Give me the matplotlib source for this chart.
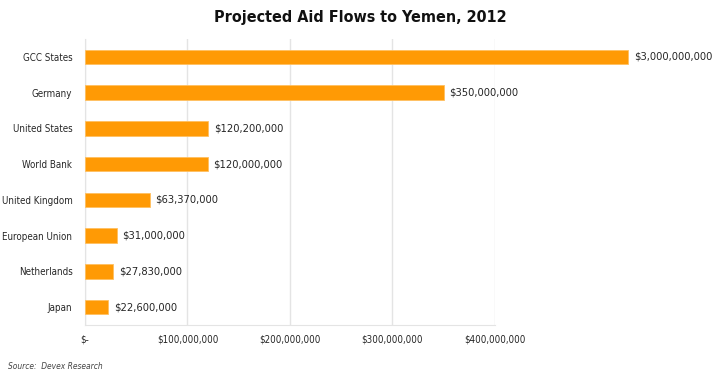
import matplotlib
matplotlib.use("Agg")
import matplotlib.pyplot as plt

# data
countries = ["GCC States", "Germany", "United States", "World Bank",
             "United Kingdom", "European Union", "Netherlands", "Japan"]
amounts = [3_000_000_000, 350_000_000, 120_200_000, 120_000_000,
           63_370_000, 31_000_000, 27_830_000, 22_600_000]
value_labels = ["$3,000,000,000", "$350,000,000", "$120,200,000", "$120,000,000",
                "$63,370,000", "$31,000,000", "$27,830,000", "$22,600,000"]
tick_values = [0, 100_000_000, 200_000_000, 300_000_000, 400_000_000]
tick_labels = ["$-", "$100,000,000", "$200,000,000", "$300,000,000", "$400,000,000"]

# the GCC bar runs off the scale in the original, so it is cut here
BAR_CAP = 530_000_000

plt.rcParams["font.family"] = ["DejaVu Sans"]
plt.rcParams["font.stretch"] = "condensed"
TEXT = "#262626"
ORANGE = "#ff9a05"

fig = plt.figure(figsize=(7.2, 3.77), dpi=100)
ax = fig.add_axes([0.118, 0.138, 0.5695, 0.7586])

shown = [min(a, BAR_CAP) for a in amounts]
ypos = list(range(len(countries)))
bars = ax.barh(ypos, shown, height=0.4, color=ORANGE, edgecolor="#ffc060",
               linewidth=0.6, zorder=3)
for b in bars:
    b.set_clip_on(False)

for y, v, lab in zip(ypos, shown, value_labels):
    ax.annotate(lab, (v, y), xytext=(4, 0), textcoords="offset points",
                va="center", ha="left", fontsize=8, color=TEXT,
                annotation_clip=False)

ax.set_xlim(0, 400_000_000)
ax.set_ylim(len(countries) - 0.5, -0.5)
ax.set_yticks(ypos)
ax.set_yticklabels(countries, fontsize=7, color=TEXT)
ax.set_xticks(tick_values)
ax.set_xticklabels(tick_labels, fontsize=7, color=TEXT)
ax.tick_params(axis="y", length=0, pad=9)
ax.tick_params(axis="x", length=0, pad=7)

ax.grid(axis="x", color="#e4e4e4", linewidth=1, zorder=0)
for side in ["top", "right"]:
    ax.spines[side].set_visible(False)
for side in ["left", "bottom"]:
    ax.spines[side].set_color("#e4e4e4")

fig.text(0.5, 0.953, "Projected Aid Flows to Yemen, 2012", ha="center", va="center",
         fontsize=11.5, fontweight="bold", color="#111111")
fig.text(0.011, 0.028, "Source:  Devex Research", ha="left", va="center",
         fontsize=6, style="italic", color="#444444")

fig.savefig("out.png", dpi=100)
